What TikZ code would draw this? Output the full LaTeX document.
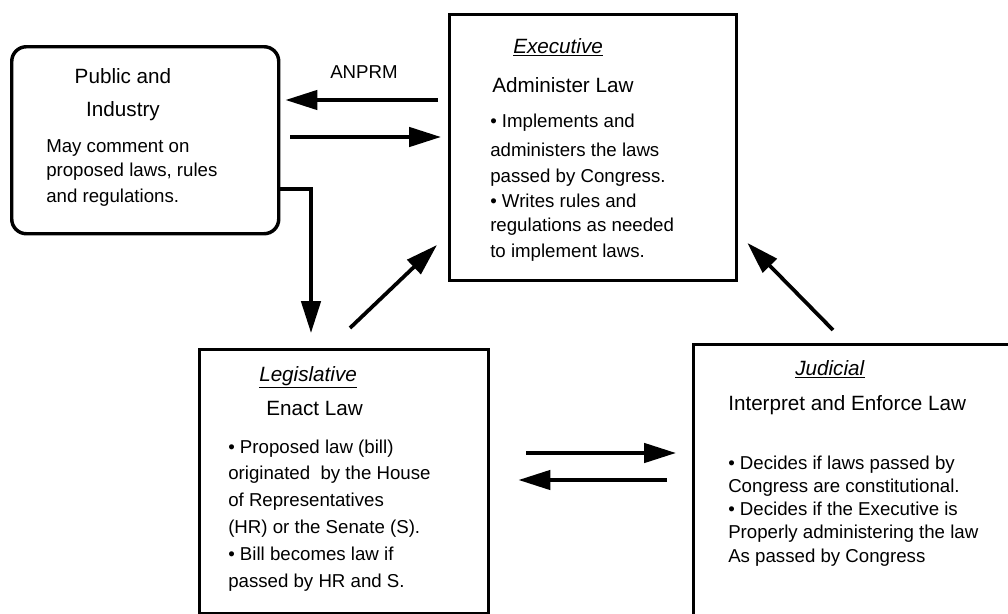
\documentclass[tikz,border=0pt]{standalone}
\usepackage{fontspec}
\setmainfont{Liberation Sans}
\usetikzlibrary{arrows.meta,positioning,calc}

\begin{document}
\begin{tikzpicture}[
  x=0.75pt, y=-0.75pt,
  branch/.style={draw,line width=2.6pt,anchor=north west,inner sep=0pt},
  pubbox/.style={branch,rounded corners=11pt},
  flow/.style={-{Triangle[length=24pt,width=14.5pt]},line width=2.8pt},
  title/.style={anchor=base west,inner sep=0pt,font=\fontsize{15.5}{18}\selectfont},
  txt/.style={anchor=base west,inner sep=0pt,align=left}
]
\clip (0,0) rectangle (1008,614);

% the four boxes
\node[pubbox,minimum width=200.25pt,minimum height=140.25pt] (pub) at (10,45) {};
\node[branch,minimum width=215.25pt,minimum height=199.5pt] (exec) at (448,13) {};
\node[branch,minimum width=216.75pt,minimum height=198pt] (leg) at (198,348) {};
\node[branch,minimum width=300pt,minimum height=225pt] (jud) at (692,343) {};

% public and industry (multi-line nodes sit on their last line)
\node[anchor=base,inner sep=0pt,align=center,font=\fontsize{15.5}{24.75}\selectfont]
  (pubt) at (123,116) {Public and\\Industry};
\node[txt,font=\fontsize{14}{17.3}\selectfont] (pubb) at (46,202)
  {May comment on\\proposed laws, rules\\[2.2pt]and regulations.};

% executive
\node[title] (exect) at (513,53) {\underline{\textit{Executive}}};
\node[title] (execs) at (492,92) {Administer Law};
\node[txt,font=\fontsize{14}{19.4}\selectfont] (execb) at (490,257)
  {• Implements and\\[2.2pt]administers the laws\\passed by Congress.\\• Writes rules and\\[-2pt]regulations as needed\\to implement laws.};

% legislative
\node[title] (legt) at (259,381) {\underline{\textit{Legislative}}};
\node[title] (legs) at (266,415) {Enact Law};
\node[txt,font=\fontsize{14}{20.1}\selectfont] (legb) at (228,587)
  {• Proposed law (bill)\\originated\ \ by the House\\of Representatives\\(HR) or the Senate (S).\\• Bill becomes law if\\passed by HR and S.};

% judicial
\node[title] (judt) at (795,375) {\underline{\textit{Judicial}}};
\node[title] (juds) at (728,410) {Interpret and Enforce Law};
\node[txt,font=\fontsize{14}{17.3}\selectfont] (judb) at (728,562)
  {• Decides if laws passed by\\Congress are constitutional.\\• Decides if the Executive is\\Properly administering the law\\As passed by Congress};

\node[anchor=base west,inner sep=0pt,font=\fontsize{14}{17}\selectfont] (anprm) at (330,78) {ANPRM};

% connectors
\draw[flow] ($(exec.north west)+(-10,87)$) -- ($(pub.north east)+(5,55)$);
\draw[flow] ($(pub.north east)+(10,92)$) -- ($(exec.north west)+(-7,124)$);
\draw[flow] ($(pub.north east)+(0,144)$) -| ($(leg.north west)+(113,-15)$);
\draw[flow] ($(leg.north west)+(152,-20)$) -- ($(exec.north west)+(-11,232)$);
\draw[flow] ($(jud.north west)+(141,-13)$) -- ($(exec.north east)+(9,230)$);
\draw[flow] ($(leg.north east)+(36,105)$) -- ($(jud.north west)+(-16,110)$);
\draw[flow] ($(jud.north west)+(-25,137)$) -- ($(leg.north east)+(28,132)$);
\end{tikzpicture}
\end{document}
